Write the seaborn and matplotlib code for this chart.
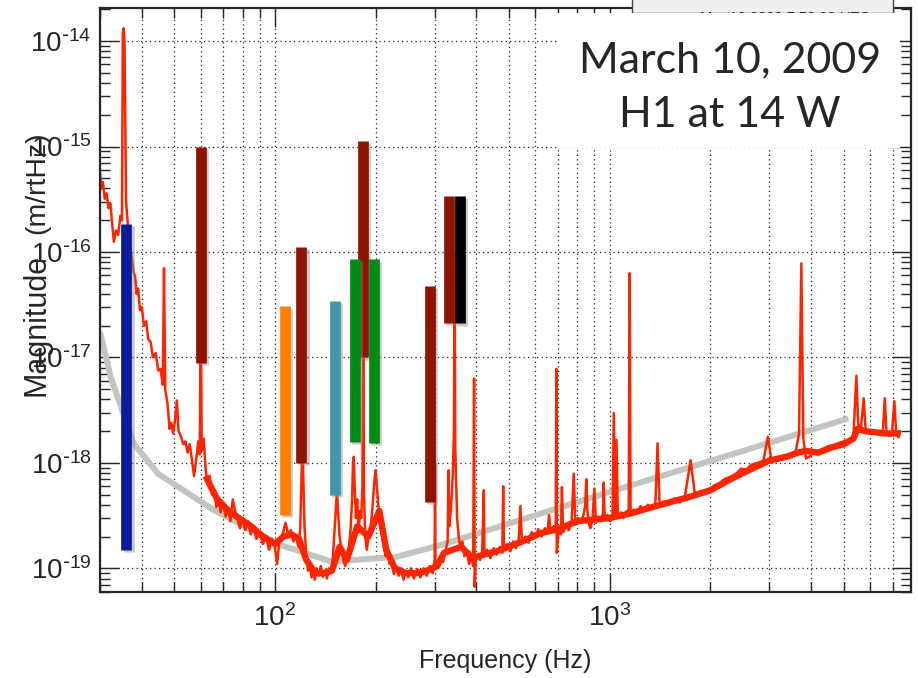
import matplotlib
matplotlib.use("Agg")
import matplotlib.pyplot as plt
import matplotlib.patheffects as pe
from matplotlib.patches import Rectangle
from matplotlib.ticker import FuncFormatter
import numpy as np
import pandas as pd
import seaborn as sns

FREQ_HZ = [
    30.0, 30.3, 30.6, 31.0, 31.4, 31.8, 32.2, 32.6, 33.0, 33.5, 34.0, 34.5, 34.9,
    35.1, 35.3, 35.5, 35.9, 36.5, 37.2, 37.8, 38.2, 38.6, 39.0, 39.5, 40.0, 40.6,
    41.2, 41.8, 42.5, 43.2, 44.0, 44.8, 45.5, 46.2, 46.6, 47.0, 47.8, 48.4, 49.0,
    49.6, 50.3, 50.9, 51.5, 52.3, 53.2, 54.0, 54.8, 55.6, 56.4, 57.3, 58.2, 59.0,
    59.6, 60.0, 60.4, 61.2, 62.0, 62.8, 63.8, 64.8, 65.8, 66.8, 67.8, 68.8, 70.0,
    71.2, 72.4, 73.6, 74.8, 76.0, 77.3, 78.6, 80.0, 81.5, 83.0, 84.6, 86.2, 88.0,
    90.0, 92.0, 94.0, 96.0, 98.0, 100.0, 101.5, 103.0, 105.0, 107.5, 109.5, 111.5,
    113.5, 115.5, 117.5, 119.0, 120.2, 120.7, 121.3, 122.5, 124.0, 125.5, 127.0,
    128.5, 130.0, 131.5, 133.0, 135.0, 137.0, 139.0, 141.0, 143.0, 145.0, 147.0,
    149.0, 150.5, 152.0, 153.2, 154.5, 156.0, 158.0, 160.0, 162.0, 164.0, 166.0,
    168.0, 170.0, 171.0, 172.0, 173.0, 174.5, 176.0, 177.8, 179.5, 181.0, 182.5,
    183.5, 184.5, 186.0, 188.0, 190.0, 192.0, 194.0, 196.0, 198.0, 199.8, 201.5,
    203.5, 205.5, 208.0, 211.0, 214.0, 217.0, 220.0, 223.0, 226.6, 230.0, 234.0,
    238.0, 242.0, 246.0, 250.0, 255.0, 260.0, 266.0, 272.0, 278.0, 284.0, 290.0,
    296.0, 300.0, 300.7, 301.5, 306.0, 312.0, 318.0, 324.0, 328.0, 330.0, 331.5,
    335.0, 338.0, 340.0, 342.5, 344.0, 345.5, 348.0, 350.0, 354.0, 358.0, 363.0,
    368.0, 374.0, 380.0, 386.0, 391.0, 393.4, 395.0, 398.0, 404.0, 410.0, 416.0,
    420.8, 422.5, 430.0, 440.0, 450.0, 460.0, 470.0, 478.0, 480.6, 483.0, 494.0,
    505.0, 515.0, 525.0, 535.0, 541.0, 547.0, 560.0, 572.0, 585.0, 598.0, 612.0,
    626.0, 640.0, 652.0, 659.0, 666.0, 680.0, 690.0, 693.0, 695.0, 705.0, 715.0,
    720.0, 726.0, 740.0, 755.0, 770.0, 781.0, 790.0, 805.0, 820.0, 835.0, 845.0,
    852.0, 858.0, 868.0, 876.0, 888.0, 900.0, 910.0, 925.0, 940.0, 955.0, 960.0,
    966.0, 985.0, 1005.0, 1020.0, 1029.0, 1038.0, 1048.0, 1058.0, 1080.0, 1100.0,
    1125.0, 1140.0, 1147.0, 1155.0, 1180.0, 1205.0, 1237.0, 1265.0, 1300.0, 1335.0,
    1370.0, 1390.0, 1410.0, 1450.0, 1500.0, 1561.0, 1620.0, 1680.0, 1745.0, 1800.0,
    1870.0, 1960.0, 2050.0, 2130.0, 2200.0, 2300.0, 2400.0, 2470.0, 2560.0, 2650.0,
    2772.0, 2880.0, 2970.0, 3050.0, 3150.0, 3280.0, 3400.0, 3497.0, 3600.0, 3680.0,
    3738.0, 3790.0, 3860.0, 3962.0, 4100.0, 4250.0, 4456.0, 4650.0, 4850.0, 5014.0,
    5200.0, 5350.0, 5460.0, 5530.0, 5640.0, 5740.0, 5820.0, 5950.0, 6100.0, 6250.0,
    6400.0, 6550.0, 6638.0, 6720.0, 6850.0, 6980.0, 7090.0, 7180.0, 7300.0, 7380.0,
]
MAG = [
    5.6e-16, 4.0e-16, 4.6e-16, 3.2e-16, 3.6e-16, 2.6e-16, 2.9e-16, 1.9e-16, 1.25e-16,
    1.6e-16, 1.45e-16, 2.2e-16, 2.0e-16, 1.2e-14, 1.32e-14, 1.0e-14, 3.0e-16, 1.5e-16,
    9.5e-17, 6.5e-17, 5.8e-17, 4.0e-17, 4.5e-17, 2.8e-17, 3.0e-17, 2.0e-17, 2.2e-17,
    1.5e-17, 1.4e-17, 1.0e-17, 1.1e-17, 7.5e-18, 7.8e-18, 5.5e-18, 7.0e-17, 5.0e-18,
    3.5e-18, 2.1e-18, 2.4e-18, 1.9e-18, 2.6e-18, 3.9e-18, 2.0e-18, 1.8e-18, 1.5e-18,
    1.6e-18, 1.25e-18, 1.5e-18, 1.1e-18, 7.5e-19, 1.1e-18, 1.6e-18, 1.2e-18, 3.0e-17,
    1.3e-18, 1.7e-18, 9.0e-19, 6.5e-19, 7.5e-19, 5.0e-19, 5.5e-19, 3.8e-19, 4.3e-19,
    3.4e-19, 4.2e-19, 3.1e-19, 3.6e-19, 2.8e-19, 4.5e-19, 3.5e-19, 2.9e-19, 2.4e-19,
    3.0e-19, 2.3e-19, 2.8e-19, 2.1e-19, 2.5e-19, 1.9e-19, 2.2e-19, 1.7e-19, 2.0e-19,
    1.5e-19, 1.9e-19, 1.55e-19, 1.1e-19, 1.8e-19, 2.0e-19, 2.7e-19, 2.1e-19, 2.3e-19,
    1.8e-19, 2.0e-19, 1.6e-19, 2.4e-19, 9.0e-19, 2.0e-18, 9.0e-19, 2.5e-19, 1.3e-19,
    9.5e-20, 1.1e-19, 8.2e-20, 9.5e-20, 7.8e-20, 1.0e-19, 8.5e-20, 1.05e-19, 8.3e-20,
    9.5e-20, 8.0e-20, 1.0e-19, 9.0e-20, 1.3e-19, 2.2e-19, 3.8e-19, 5.5e-19, 3.2e-19,
    2.0e-19, 1.5e-19, 1.2e-19, 1.05e-19, 1.2e-19, 1.5e-19, 2.2e-19, 4.5e-19, 1.0e-18,
    1.14e-18, 6.0e-19, 3.0e-19, 4.5e-19, 2.2e-19, 3.5e-19, 3.0e-19, 6.0e-19, 2.0e-17,
    5.0e-19, 2.0e-19, 1.5e-19, 1.9e-19, 2.0e-19, 2.8e-19, 4.2e-19, 6.5e-19, 8.5e-19,
    6.0e-19, 4.0e-19, 2.8e-19, 2.2e-19, 1.7e-19, 1.3e-19, 1.5e-19, 1.1e-19, 1.2e-19,
    8.8e-20, 1.05e-19, 8.5e-20, 1.0e-19, 7.8e-20, 9.5e-20, 8.2e-20, 1.0e-19, 8.0e-20,
    9.8e-20, 8.2e-20, 1.0e-19, 8.5e-20, 1.05e-19, 9.0e-20, 1.2e-19, 1.0e-18, 1.1e-19,
    1.0e-19, 1.3e-19, 1.15e-19, 1.5e-19, 1.8e-19, 8.5e-19, 2.5e-19, 3.5e-19, 5.5e-19,
    8.0e-19, 2.0e-18, 1.0e-16, 1.5e-18, 6.0e-19, 3.0e-19, 2.0e-19, 1.55e-19, 1.8e-19,
    1.3e-19, 1.45e-19, 1.1e-19, 1.3e-19, 1.05e-19, 6.3e-18, 6.7e-20, 1.2e-19, 1.35e-19,
    1.2e-19, 1.45e-19, 5.5e-19, 1.3e-19, 1.5e-19, 1.25e-19, 1.55e-19, 1.35e-19, 1.6e-19,
    1.4e-19, 6.0e-19, 1.5e-19, 1.7e-19, 1.45e-19, 1.8e-19, 1.55e-19, 1.9e-19, 3.9e-19,
    1.7e-19, 2.0e-19, 1.75e-19, 2.2e-19, 1.95e-19, 2.35e-19, 2.0e-19, 2.4e-19, 2.15e-19,
    3.2e-19, 2.2e-19, 2.5e-19, 2.2e-19, 7.8e-18, 1.4e-19, 2.4e-19, 2.1e-19, 5.9e-19,
    2.2e-19, 2.6e-19, 2.3e-19, 2.8e-19, 7.9e-19, 2.6e-19, 3.0e-19, 2.7e-19, 3.2e-19,
    3.9e-19, 7.0e-19, 3.5e-19, 2.6e-19, 2.4e-19, 2.9e-19, 5.7e-19, 2.7e-19, 3.1e-19,
    2.8e-19, 3.3e-19, 6.5e-19, 3.0e-19, 3.2e-19, 2.8e-19, 3.3e-19, 2.97e-18, 3.1e-19,
    1.65e-18, 3.0e-19, 3.4e-19, 3.0e-19, 3.5e-19, 3.2e-19, 6.3e-17, 3.2e-19, 3.6e-19,
    3.3e-19, 3.9e-19, 3.5e-19, 4.0e-19, 3.7e-19, 4.2e-19, 1.53e-18, 3.9e-19, 4.3e-19,
    4.0e-19, 4.6e-19, 4.2e-19, 4.9e-19, 1.06e-18, 4.8e-19, 5.4e-19, 5.2e-19, 6.1e-19,
    6.4e-19, 7.0e-19, 7.4e-19, 8.0e-19, 8.8e-19, 8.6e-19, 9.6e-19, 1.0e-18, 1.05e-18,
    1.77e-18, 1.0e-18, 1.1e-18, 1.08e-18, 1.2e-18, 1.2e-18, 1.3e-18, 1.9e-18, 7.8e-17,
    1.7e-18, 1.1e-18, 1.15e-18, 1.3e-18, 1.28e-18, 1.42e-18, 1.45e-18, 1.55e-18,
    1.6e-18, 1.65e-18, 1.8e-18, 6.7e-18, 2.3e-18, 2.2e-18, 4.1e-18, 2.0e-18, 2.05e-18,
    1.9e-18, 2.0e-18, 1.85e-18, 1.95e-18, 4.1e-18, 1.9e-18, 1.8e-18, 2.0e-18, 3.85e-18,
    1.9e-18, 1.75e-18, 2.0e-18,
]

# centre of the dense noise band (drawn thicker underneath the trace)
FLOOR_FREQ_HZ = [
    62, 67, 72, 78, 85, 92, 100, 106, 112, 118, 124, 132, 140, 148, 156,
    164, 176, 190, 205, 215, 228, 245, 265, 285, 305, 320, 360, 390, 420, 460, 500,
    560, 620, 700, 800, 900, 1000, 1150, 1300, 1500, 1750, 2000, 2300, 2600, 3000,
    3400, 3650, 3850, 4200, 4600, 5000, 5350, 5500, 5800, 6200, 6700, 7380,
]
FLOOR_MAG = [
    7.5e-19, 4.6e-19, 3.6e-19, 3.0e-19, 2.5e-19, 2.0e-19,
    1.7e-19, 2.0e-19, 2.1e-19, 1.9e-19, 1.2e-19, 9.0e-20, 9.0e-20, 9.5e-20, 1.6e-19,
    1.2e-19, 2.5e-19, 2.0e-19, 3.5e-19, 1.5e-19, 1.0e-19, 9.0e-20, 9.0e-20, 9.5e-20,
    1.05e-19, 1.4e-19, 1.6e-19, 1.25e-19, 1.35e-19, 1.45e-19, 1.6e-19, 1.85e-19,
    2.15e-19, 2.35e-19, 2.8e-19, 2.9e-19, 3.0e-19, 3.3e-19, 3.7e-19, 4.2e-19, 4.8e-19,
    5.5e-19, 7.0e-19, 8.5e-19, 1.05e-18, 1.15e-18, 1.25e-18, 1.3e-18, 1.25e-18,
    1.4e-18, 1.5e-18, 1.7e-18, 2.1e-18, 2.0e-18, 1.95e-18, 1.9e-18, 1.9e-18,
]

# grey reference curve
REF_FREQ_HZ = [30, 32.3, 37.8, 44.7, 65.6, 104, 128, 147, 230, 312, 1000, 5170]
REF_MAG = [1.74e-17, 6.5e-18, 1.53e-18, 7.9e-19, 3.57e-19, 1.66e-19, 1.34e-19,
           1.16e-19, 1.28e-19, 1.66e-19, 5.3e-19, 2.64e-18]

# coloured noise-projection bars, drawn in this order
BAR_FREQ_HZ = [36.0, 60.0, 107.0, 120.0, 151.0, 183.0, 173.0, 198.0, 291.0, 332.0, 357.0]
BAR_TOP = [1.83e-16, 1.0e-15, 3.05e-17, 1.12e-16, 3.4e-17, 1.12e-15, 8.66e-17,
           8.5e-17, 4.76e-17, 3.4e-16, 3.4e-16]
BAR_BOTTOM = [1.49e-19, 8.9e-18, 3.2e-19, 1.0e-18, 5.0e-19, 1.0e-17, 1.58e-18,
              1.55e-18, 4.28e-19, 2.13e-17, 2.1e-17]
BAR_COLORS = ["#0A1C9C", "#8E1400", "#FF8000", "#8E1400", "#3E97AD", "#8E1400",
              "#008C14", "#008C14", "#8E1400", "#8E1400", "#000000"]

Y_TICKS = [1e-19, 1e-18, 1e-17, 1e-16, 1e-15, 1e-14]
X_TICKS = [1e2, 1e3]

W, H = 918, 678
RED = "#FF2400"

sns.set_style("ticks")
plt.rcParams["font.family"] = ["Liberation Sans", "DejaVu Sans"]
plt.rcParams["mathtext.default"] = "regular"

fig = plt.figure(figsize=(W / 100, H / 100), dpi=100)
ax = fig.add_axes([100 / W, 1 - 592 / H, 811 / W, 584 / H])
ax.set_axisbelow(True)

spec = pd.DataFrame({"freq": FREQ_HZ, "mag": MAG})
floor = pd.DataFrame({"freq": FLOOR_FREQ_HZ, "mag": FLOOR_MAG})
ref = pd.DataFrame({"freq": REF_FREQ_HZ, "mag": REF_MAG})

sns.lineplot(data=ref, x="freq", y="mag", ax=ax, color="#C0C5BD", lw=4.3,
             solid_capstyle="butt", zorder=1.5, estimator=None)
sns.lineplot(data=floor, x="freq", y="mag", ax=ax, color=RED, lw=4.6,
             solid_capstyle="butt", zorder=1.8, estimator=None)
sns.lineplot(data=spec, x="freq", y="mag", ax=ax, color=RED, lw=1.8,
             zorder=2, estimator=None)

shadow = [pe.SimpleLineShadow(offset=(1.5, -1.5), shadow_color="#888888", alpha=0.45),
          pe.Normal()]
for f, top, bot, c in zip(BAR_FREQ_HZ, BAR_TOP, BAR_BOTTOM, BAR_COLORS):
    ax.vlines(f, bot, top, colors=c, lw=7.7, capstyle="butt", zorder=3,
              path_effects=shadow)

ax.set_xscale("log")
ax.set_yscale("log")
ax.set_xticks(X_TICKS)
ax.set_yticks(Y_TICKS)
ax.set_xlim(30, 7950)
ax.set_ylim(5.96e-20, 2.06e-14)


def pow10(v, pos):
    e = int(round(np.log10(v)))
    if e < 0:
        return r"$10^{\text{-}%d}$" % (-e)
    return r"$10^{%d}$" % e


ax.xaxis.set_major_formatter(FuncFormatter(pow10))
ax.yaxis.set_major_formatter(FuncFormatter(pow10))
ax.xaxis.set_minor_formatter(FuncFormatter(lambda v, p: ""))
ax.yaxis.set_minor_formatter(FuncFormatter(lambda v, p: ""))

dot = (0, (1, 2.6))
ax.grid(which="major", axis="both", ls=dot, color="#222222", lw=0.9)
ax.grid(which="minor", axis="x", ls=dot, color="#222222", lw=0.9)
ax.tick_params(which="both", direction="in", top=True, right=True, width=1.0)
ax.tick_params(which="major", length=14, labelsize=20, pad=6)
ax.tick_params(axis="x", which="major", pad=9)
ax.tick_params(which="minor", length=7)
for s in ax.spines.values():
    s.set_linewidth(1.6)

ax.set_xlabel("Frequency (Hz)", fontsize=18, labelpad=12)
ax.set_ylabel("")
fig.text(44 / W, 1 - 325 / H, "Magnitude", rotation=90, rotation_mode="anchor",
         ha="center", va="baseline", fontsize=22)
fig.text(44 / W, 1 - 183 / H, "(m/rtHz)", rotation=90, rotation_mode="anchor",
         ha="center", va="baseline", fontsize=20.5)

# half-hidden time stamp box at the top
fig.add_artist(Rectangle((632 / W, 1 - 13 / H), 261 / W, 20 / H, transform=fig.transFigure,
                         facecolor="#EFEFEF", edgecolor="#444444", lw=1, zorder=4))
fig.text(785 / W, 1 - 10.5 / H, "Mar 10 2009 7:52:00 UTC", ha="center", va="top",
         fontsize=10.5, color="#222222", zorder=4.5)

# annotation box
fig.add_artist(Rectangle((557 / W, 1 - 148 / H), 343 / W, 135 / H, transform=fig.transFigure,
                         facecolor="white", edgecolor="none", zorder=5))
fig.text(730 / W, 1 - 72 / H, "March 10, 2009", ha="center", va="baseline",
         fontsize=31, family=["Lato", "DejaVu Sans"], zorder=6)
fig.text(730 / W, 1 - 127 / H, "H1 at 14 W", ha="center", va="baseline",
         fontsize=31, family=["Lato", "DejaVu Sans"], zorder=6)

fig.savefig("out.png", dpi=100)
